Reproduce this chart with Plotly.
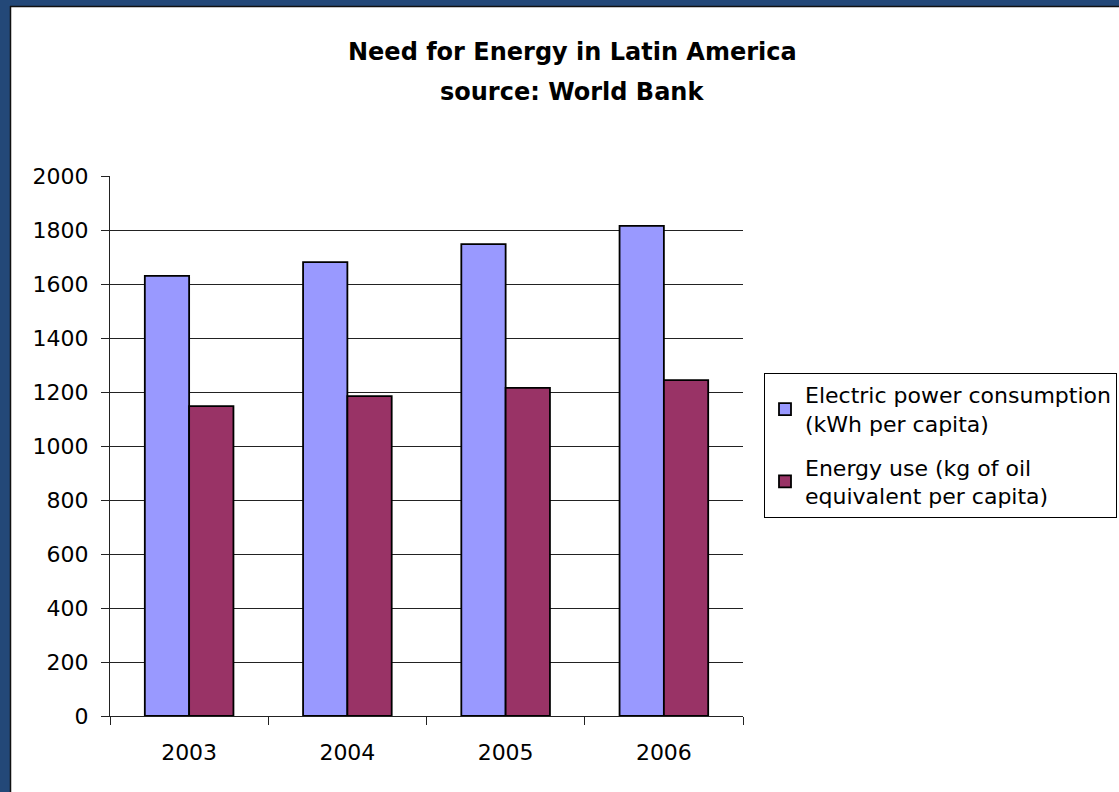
import plotly.graph_objects as go

years = ["2003", "2004", "2005", "2006"]
electric = [1630, 1681, 1748, 1815]
energy_use = [1148, 1185, 1215, 1244]
series_names = ["Electric power consumption<br>(kWh per capita)",
                "Energy use (kg of oil<br>equivalent per capita)"]
title_lines = ["Need for Energy in Latin America", "source: World Bank"]

W, H = 1119, 792
L, R, T, B = 110, 743, 176, 716
pw, ph = R - L, B - T

def px(x):
    return (x - L) / pw

def py(y):
    return (B - y) / ph

FONT = "DejaVu Sans, Arial, sans-serif"
BLUE = "#234878"

fig = go.Figure()
fig.add_trace(go.Bar(x=years, y=electric, name=series_names[0], legendgroup="a",
                     marker=dict(color="#9999ff", line=dict(color="black", width=1.8))))
fig.add_trace(go.Bar(x=years, y=energy_use, name=series_names[1], legendgroup="b",
                     marker=dict(color="#993366", line=dict(color="black", width=1.8))))

fig.update_layout(
    width=W, height=H,
    margin=dict(l=L, r=W - R, t=T, b=H - B, autoexpand=False),
    paper_bgcolor="white",
    plot_bgcolor="white",
    barmode="group", bargap=0.44, bargroupgap=0,
    font=dict(family=FONT, size=22, color="black"),
    showlegend=True,
    legend=dict(x=px(764), y=py(373), xanchor="left", yanchor="top",
                bordercolor="black", borderwidth=1, bgcolor="white",
                font=dict(size=22, family=FONT), tracegroupgap=12,
                traceorder="grouped"),
    xaxis=dict(type="category", tickson="boundaries", ticks="outside", ticklen=8,
               tickcolor="#222", showline=True, linecolor="#222", linewidth=1,
               showgrid=False, ticklabelstandoff=17,
               tickfont=dict(size=22, family=FONT)),
    yaxis=dict(range=[0, 2000], dtick=200, ticks="outside", ticklen=8,
               tickcolor="#222", showline=True, linecolor="#222", linewidth=1,
               showgrid=True, gridcolor="#222", gridwidth=1, zeroline=False,
               ticklabelstandoff=8, tickfont=dict(size=22, family=FONT)),
    shapes=[
        dict(type="rect", xref="paper", yref="paper", layer="above",
             x0=px(-5), x1=px(10), y0=py(820), y1=py(-5),
             fillcolor=BLUE, line=dict(width=0)),
        dict(type="rect", xref="paper", yref="paper", layer="above",
             x0=px(-5), x1=px(1130), y0=py(6), y1=py(-5),
             fillcolor=BLUE, line=dict(width=0)),
        dict(type="line", xref="paper", yref="paper", layer="above",
             x0=px(10.5), x1=px(10.5), y0=py(820), y1=py(6),
             line=dict(color="#111", width=1.5)),
        dict(type="line", xref="paper", yref="paper", layer="above",
             x0=px(10), x1=px(1130), y0=py(6.5), y1=py(6.5),
             line=dict(color="#111", width=1.5)),
    ],
    annotations=[
        dict(text="<b>%s</b>" % title_lines[0], xref="paper", yref="paper",
             x=px(572), y=py(52), xanchor="center", yanchor="middle",
             showarrow=False, font=dict(size=24, family=FONT)),
        dict(text="<b>%s</b>" % title_lines[1], xref="paper", yref="paper",
             x=px(572), y=py(92), xanchor="center", yanchor="middle",
             showarrow=False, font=dict(size=24, family=FONT)),
    ],
)

fig.write_html("out.html")
